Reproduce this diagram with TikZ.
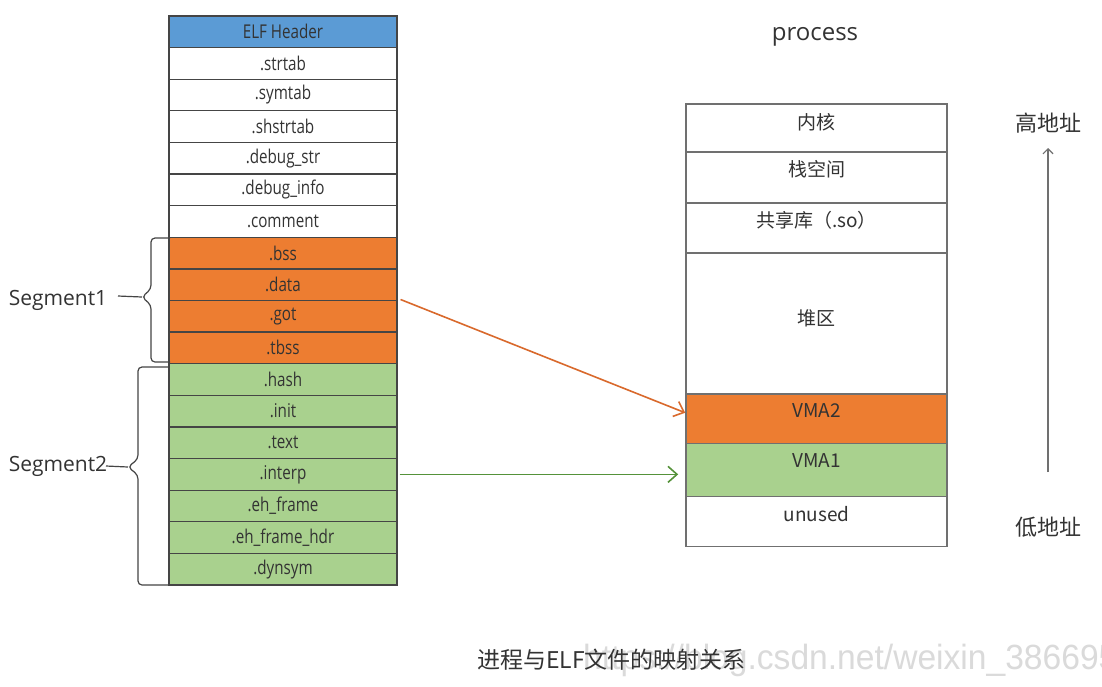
\documentclass[tikz,border=0pt]{standalone}
\usepackage{fontspec}
\setmainfont{Open Sans}
\newfontfamily\narrowfont{Open Sans}[FakeStretch=0.8]
\newfontfamily\cjk{Noto Sans CJK SC}
\newfontfamily\wmfont{Liberation Sans}[FakeStretch=0.96]
\usetikzlibrary{arrows.meta,calc}
\definecolor{hdrblue}{HTML}{5B9BD5}
\definecolor{segorange}{HTML}{ED7D31}
\definecolor{seggreen}{HTML}{A9D18E}
\definecolor{txtgray}{HTML}{333333}
\definecolor{linegray}{HTML}{454545}
\definecolor{boxgray}{HTML}{707070}
\definecolor{arrorange}{HTML}{D9692C}
\definecolor{arrgreen}{HTML}{55923A}
\definecolor{wmgray}{HTML}{DADADA}
\begin{document}
\begin{tikzpicture}[x=1pt,y=-1pt,
  sec/.style={draw=linegray, line width=1.3pt, minimum width=228pt, minimum height=31.61pt,
    inner sep=0pt, font=\narrowfont\fontsize{19}{19}\selectfont, text=txtgray},
  cell/.style={draw=boxgray, line width=1.6pt, minimum width=261pt, inner sep=0pt},
  celltext/.style={font=\cjk\fontsize{19}{19}\selectfont, text=txtgray, inner sep=0pt},
  seglabel/.style={font=\fontsize{21}{21}\selectfont, text=txtgray, inner sep=0pt},
  bracket/.style={draw=linegray, line width=1.2pt, rounded corners=4pt},
  orarrow/.style={draw=arrorange, line width=1.6pt, -{Straight Barb[length=9pt,width=16pt,line width=1.6pt]}},
  grarrow/.style={draw=arrgreen, line width=1.6pt, -{Straight Barb[length=9pt,width=16pt,line width=1.6pt]}},
  addrarrow/.style={draw=boxgray, line width=1.4pt, -{Straight Barb[length=5pt,width=10pt,line width=1.2pt]}},
  addrtext/.style={font=\cjk\fontsize{22}{22}\selectfont, text=txtgray, inner sep=0pt}
]
\useasboundingbox[fill=white] (0,0) rectangle (1102,686);

% ELF file sections
\foreach [count=\i from 0] \t/\c in {ELF Header/hdrblue, .strtab/white, .symtab/white, .shstrtab/white,
  .debug\_str/white, .debug\_info/white, .comment/white,
  .bss/segorange, .data/segorange, .got/segorange, .tbss/segorange,
  .hash/seggreen, .init/seggreen, .text/seggreen, .interp/seggreen, .eh\_frame/seggreen,
  .eh\_frame\_hdr/seggreen, .dynsym/seggreen}{
  \node[sec, fill=\c] (r\i) at (283, {16+31.61*\i+15.805}) {\t};
}

% Brackets
\coordinate (s1top) at (170,238);
\coordinate (s1cusp) at (142,297);
\coordinate (s1bot) at (170,362);
\draw[bracket] (s1top) -- (151,238) -- (151,289) -- (s1cusp) -- (151,305) -- (151,362) -- (s1bot);
\node[seglabel] (seg1) at (58,300) {Segment1};
\draw[linegray, line width=1.2pt] (118,296) -- (s1cusp);

\coordinate (s2top) at (169,367);
\coordinate (s2cusp) at (128,467);
\coordinate (s2bot) at (169,585);
\draw[bracket] (s2top) -- (138,367) -- (138,459) -- (s2cusp) -- (138,475) -- (138,585) -- (s2bot);
\node[seglabel] (seg2) at (58,466) {Segment2};
\draw[linegray, line width=1.2pt] (106,466) -- (s2cusp);

% Process
\node[font=\fontsize{24}{24}\selectfont, text=txtgray, inner sep=0pt] (proc) at (815,37) {process};

\node[cell, minimum height=48pt] (k1) at (816.5,128) {};
\node[cell, minimum height=51pt] (k2) at (816.5,177.5) {};
\node[cell, minimum height=50pt] (k3) at (816.5,228) {};
\node[cell, minimum height=141pt] (k4) at (816.5,323.5) {};
\node[cell, minimum height=49.5pt, fill=segorange] (k5) at (816.5,418.75) {};
\node[cell, minimum height=53pt, fill=seggreen] (k6) at (816.5,470) {};
\node[cell, minimum height=50pt] (k7) at (816.5,521.5) {};

\node[celltext] (t1) at (816.5,122) {内核};
\node[celltext] (t2) at (816.5,169) {栈空间};
\node[celltext] (t3) at (816.5,220) {共享库（.so）};
\node[celltext] (t4) at (816.5,318) {堆区};
\node[celltext] (t5) at (816.5,411) {VMA2};
\node[celltext] (t6) at (816.5,461) {VMA1};
\node[celltext] (t7) at (816.5,514) {unused};

% Mapping arrows
\draw[orarrow, shorten <=1pt] ($(r8.south east)+(2,-2)$) -- ($(k5.west)+(0,-6)$);
\draw[grarrow, shorten >=7pt] ($(r14.east)+(2,0)$) -- (r14.east -| k6.west);

% Address arrow
\node[addrtext] (hi) at (1048,123) {高地址};
\node[addrtext] (lo) at (1048,527) {低地址};
\coordinate (lostart) at (1048,472);
\coordinate (hiend) at (1048,148);
\draw[addrarrow] (lostart) -- (hiend);

% Watermark and caption
\node[font=\wmfont\fontsize{35}{35}\selectfont, text=wmgray, anchor=west, inner sep=0pt] (wm) at (583,660) {https://blog.csdn.net/weixin\_38669561};
\node[font=\cjk\fontsize{23}{23}\selectfont, text=txtgray, inner sep=0pt] (cap) at (611.5,660) {进程与ELF文件的映射关系};
\end{tikzpicture}
\end{document}
